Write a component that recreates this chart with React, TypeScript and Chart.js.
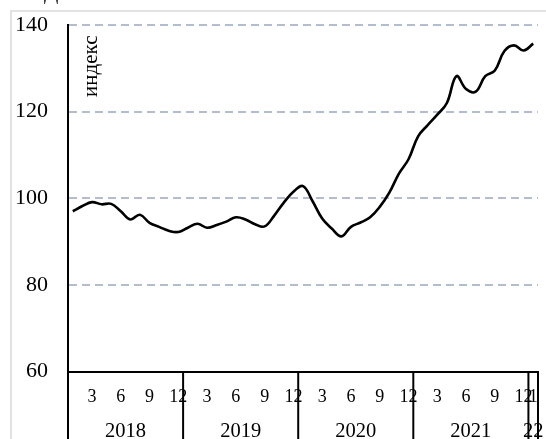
import React, { useEffect, useRef } from 'react';
import { Chart, registerables } from 'chart.js';

Chart.register(...registerables);

// ---- data ----
const years = ['2018', '2019', '2020', '2021', '22'];
const monthsInYear = [12, 12, 12, 12, 1];
const shownMonths = [3, 6, 9, 12];
const indexValues = [
  // 2018
  97.0, 98.2, 99.1, 98.6, 98.7, 97.0, 95.1, 96.2, 94.3, 93.4, 92.5, 92.2,
  // 2019
  93.2, 94.1, 93.2, 93.8, 94.6, 95.6, 95.1, 94.0, 93.5, 96.0, 99.0, 101.5,
  // 2020
  102.8, 99.3, 95.3, 93.0, 91.2, 93.4, 94.4, 95.6, 98.0, 101.3, 105.7, 109.0,
  // 2021
  114.3, 116.9, 119.3, 122.0, 128.2, 125.2, 124.6, 128.2, 129.5, 134.0, 135.3, 134.1,
  // 2022
  135.7,
];
const yMin = 60;
const yMax = 140;
const yStep = 20;
const axisTitle = 'индекс';
const topCutText = 'Д';

// categories and tick labels built from the arrays above
const categories: string[] = [];
const monthTickLabels: string[] = [];
years.forEach((y, yi) => {
  for (let m = 1; m <= monthsInYear[yi]; m++) {
    categories.push(`${y}-${m}`);
    const isLastYear = yi === years.length - 1;
    monthTickLabels.push(shownMonths.includes(m) || isLastYear ? String(m) : '');
  }
});

const SERIF = "'Liberation Serif', 'Times New Roman', serif";

export default function App() {
  const ref = useRef<HTMLCanvasElement | null>(null);

  useEffect(() => {
    document.body.style.margin = '0';
    const canvas = ref.current;
    if (!canvas) return;

    const framePlugin = {
      id: 'frame',
      beforeDraw(chart: any) {
        const ctx = chart.ctx;
        ctx.save();
        ctx.fillStyle = '#ffffff';
        ctx.fillRect(0, 0, chart.width, chart.height);
        ctx.strokeStyle = '#d9d9d9';
        ctx.lineWidth = 1.5;
        ctx.strokeRect(11, 11, chart.width + 20, chart.height + 20);
        ctx.fillStyle = '#000';
        ctx.font = `21px ${SERIF}`;
        ctx.textAlign = 'left';
        ctx.textBaseline = 'alphabetic';
        ctx.fillText(topCutText, 44, -1);
        ctx.restore();
      },
      afterDraw(chart: any) {
        const ctx = chart.ctx;
        const x = chart.scales.x;
        const area = chart.chartArea;
        const half = (x.getPixelForValue(1) - x.getPixelForValue(0)) / 2;
        ctx.save();
        ctx.strokeStyle = '#000';
        ctx.lineWidth = 2;
        ctx.beginPath();
        ctx.moveTo(area.left, area.bottom);
        ctx.lineTo(area.left, chart.height);
        ctx.stroke();
        ctx.fillStyle = '#000';
        ctx.font = `20.5px ${SERIF}`;
        ctx.textAlign = 'center';
        ctx.textBaseline = 'alphabetic';
        let start = 0;
        years.forEach((yr, i) => {
          const n = monthsInYear[i];
          const left = x.getPixelForValue(start) - half;
          const right = x.getPixelForValue(start + n - 1) + half;
          ctx.beginPath();
          ctx.moveTo(right, area.bottom);
          ctx.lineTo(right, chart.height);
          ctx.stroke();
          ctx.fillText(yr, (left + right) / 2, 437.3);
          start += n;
        });
        // rotated axis title
        ctx.save();
        ctx.translate(area.left + 29, area.top + 72);
        ctx.rotate(-Math.PI / 2);
        ctx.font = `21px ${SERIF}`;
        ctx.textAlign = 'left';
        ctx.fillText(axisTitle, 0, 0);
        ctx.restore();
        ctx.restore();
      },
    };

    const chart = new Chart(canvas, {
      type: 'line',
      data: {
        labels: categories,
        datasets: [
          {
            data: indexValues,
            borderColor: '#000000',
            borderWidth: 2.6,
            pointRadius: 0,
            tension: 0.4,
            fill: false,
          },
        ],
      },
      options: {
        responsive: false,
        animation: false,
        layout: { padding: { top: 25, right: 8, bottom: 0, left: 0 } },
        plugins: {
          legend: { display: false },
          tooltip: { enabled: false },
        },
        scales: {
          x: {
            type: 'category',
            offset: true,
            grid: { display: false, drawTicks: false },
            border: { display: true, color: '#000', width: 2 },
            ticks: {
              autoSkip: false,
              maxRotation: 0,
              minRotation: 0,
              padding: 15,
              color: '#000',
              font: { family: SERIF, size: 18 },
              callback: (_v: any, i: number) => monthTickLabels[i],
            },
            afterFit: (s: any) => {
              s.height = 67.5;
              s.paddingLeft = 0;
              s.paddingRight = 0;
            },
          },
          y: {
            min: yMin,
            max: yMax,
            grid: {
              drawTicks: false,
              lineWidth: 2,
              color: (c: any) => (c.tick && c.tick.value === yMin ? 'rgba(0,0,0,0)' : '#b4bdcf'),
            },
            border: { display: true, color: '#000', width: 2, dash: [8, 5] },
            ticks: {
              stepSize: yStep,
              padding: 20,
              color: '#000',
              font: { family: SERIF, size: 22 },
            },
            afterFit: (s: any) => {
              s.width = 68;
              s.paddingTop = 0;
              s.paddingBottom = 0;
            },
          },
        },
      },
      plugins: [framePlugin],
    });

    return () => chart.destroy();
  }, []);

  return (
    <div style={{ position: 'absolute', left: 0, top: 0, width: 546, height: 439 }}>
      <canvas ref={ref} width={546} height={439} />
    </div>
  );
}
